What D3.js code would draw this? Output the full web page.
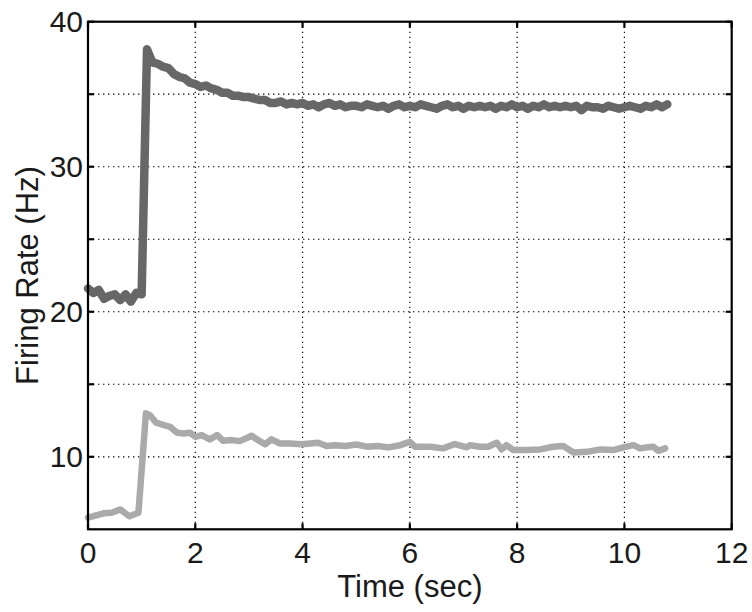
<!DOCTYPE html>
<html lang="en">
<head>
    <meta charset="UTF-8">
    <title>Firing Rate</title>
    <script src="https://d3js.org/d3.v7.min.js"></script>
    <style>
        body { margin: 0; background: #fff; }
        svg text { font-family: "Liberation Sans", Arial, Helvetica, sans-serif; fill: #1a1a1a; }
        .grid line { stroke: #000; stroke-width: 1.2; stroke-dasharray: 1.4,3.6; }
        .frame { fill: none; stroke: #000; stroke-width: 2.2; }
        .tick-mark { stroke: #000; stroke-width: 2.2; }
    </style>
</head>
<body>
<svg id="chart" width="752" height="612"></svg>
<script>
    // x ticks and y ticks
    const xTicks = [0, 2, 4, 6, 8, 10, 12];
    const yTicks = [10, 15, 20, 25, 30, 35, 40];
    const yLabelled = [10, 20, 30, 40];

    // dark series, sampled every 0.1 s from t = 0
    const darkStep = 0.1;
    const darkValues = [
        21.6, 21.3, 21.5, 20.9, 21.1, 21.2, 20.8, 21.2, 20.7, 21.3,
        21.2, 38.1, 37.2, 37.1, 36.9, 36.8, 36.4, 36.2, 36.1, 35.8,
        35.7, 35.5, 35.6, 35.4, 35.3, 35.1, 35.1, 34.9, 34.9, 34.8,
        34.8, 34.7, 34.6, 34.6, 34.4, 34.4, 34.5, 34.3, 34.4, 34.3,
        34.4, 34.2, 34.3, 34.1, 34.3, 34.4, 34.2, 34.3, 34.1, 34.2,
        34.2, 34.1, 34.3, 34.2, 34.1, 34.2, 34.0, 34.2, 34.3, 34.1,
        34.2, 34.1, 34.3, 34.2, 34.1, 34.0, 34.2, 34.3, 34.1, 34.2,
        34.0, 34.2, 34.1, 34.2, 34.1, 34.2, 34.0, 34.2, 34.1, 34.3,
        34.1, 34.2, 34.0, 34.2, 34.1, 34.3, 34.1, 34.2, 34.1, 34.2,
        34.1, 34.2, 33.9, 34.2, 34.1, 34.1, 34.0, 34.2, 34.1, 34.0,
        34.1, 34.2, 34.1, 34.0, 34.2, 34.1, 34.3, 34.1, 34.3
    ];

    // light series (time, rate)
    const lightTimes = [
        0.0, 0.29, 0.44, 0.6, 0.77, 0.94, 1.08, 1.16, 1.27, 1.4,
        1.53, 1.65, 1.78, 1.9, 2.0, 2.12, 2.27, 2.41, 2.52, 2.68,
        2.83, 3.05, 3.17, 3.3, 3.42, 3.58, 3.77, 3.98, 4.14, 4.29,
        4.45, 4.6, 4.8, 5.0, 5.2, 5.4, 5.6, 5.82, 6.0, 6.1,
        6.38, 6.62, 6.84, 7.06, 7.12, 7.31, 7.46, 7.62, 7.71, 7.8,
        7.93, 8.18, 8.43, 8.67, 8.86, 9.05, 9.3, 9.55, 9.79, 9.98,
        10.17, 10.29, 10.42, 10.54, 10.63, 10.76
    ];
    const lightValues = [
        5.8, 6.1, 6.14, 6.37, 5.9, 6.14, 13.0, 12.85, 12.35, 12.2,
        12.07, 11.68, 11.6, 11.66, 11.38, 11.5, 11.2, 11.5, 11.1, 11.15,
        11.08, 11.45, 11.15, 10.86, 11.2, 10.92, 10.92, 10.86, 10.92, 10.97,
        10.74, 10.8, 10.75, 10.85, 10.7, 10.75, 10.65, 10.8, 11.03, 10.69,
        10.69, 10.58, 10.88, 10.65, 10.8, 10.69, 10.69, 10.97, 10.51, 10.8,
        10.46, 10.46, 10.51, 10.69, 10.74, 10.3, 10.34, 10.51, 10.46, 10.65,
        10.8, 10.58, 10.65, 10.69, 10.41, 10.58
    ];

    const plotLeft = 88, plotRight = 731.7, plotTop = 21.7, plotBottom = 529.3;
    const svg = d3.select("#chart");

    const x = d3.scaleLinear().domain([0, 12]).range([plotLeft, plotRight]);
    const y = d3.scaleLinear().domain([5, 40]).range([plotBottom, plotTop]);

    const darkData = darkValues.map((v, i) => ({ t: i * darkStep, v: v }));
    const lightData = lightValues.map((v, i) => ({ t: lightTimes[i], v: v }));

    // grid
    const grid = svg.append("g").attr("class", "grid");
    grid.selectAll(".gx")
        .data(xTicks.filter(t => t > 0 && t < 12))
        .enter().append("line")
        .attr("x1", d => x(d)).attr("x2", d => x(d))
        .attr("y1", plotTop).attr("y2", plotBottom);
    grid.selectAll(".gy")
        .data(yTicks.filter(t => t < 40))
        .enter().append("line")
        .attr("x1", plotLeft).attr("x2", plotRight)
        .attr("y1", d => y(d)).attr("y2", d => y(d));

    // lines
    const line = d3.line().x(d => x(d.t)).y(d => y(d.v));
    svg.append("path")
        .datum(lightData)
        .attr("d", line)
        .attr("fill", "none")
        .attr("stroke", "#aaaaaa")
        .attr("stroke-width", 6.5)
        .attr("stroke-linejoin", "round")
        .attr("stroke-linecap", "round");
    svg.append("path")
        .datum(darkData)
        .attr("d", line)
        .attr("fill", "none")
        .attr("stroke", "#676767")
        .attr("stroke-width", 8.5)
        .attr("stroke-linejoin", "round")
        .attr("stroke-linecap", "round");

    // frame
    svg.append("rect").attr("class", "frame")
        .attr("x", plotLeft).attr("y", plotTop)
        .attr("width", plotRight - plotLeft).attr("height", plotBottom - plotTop);

    // ticks, inward on all four sides
    const tickLen = 6;
    const ticks = svg.append("g");
    xTicks.forEach(t => {
        ticks.append("line").attr("class", "tick-mark")
            .attr("x1", x(t)).attr("x2", x(t)).attr("y1", plotBottom).attr("y2", plotBottom - tickLen);
        ticks.append("line").attr("class", "tick-mark")
            .attr("x1", x(t)).attr("x2", x(t)).attr("y1", plotTop).attr("y2", plotTop + tickLen);
    });
    yTicks.forEach(t => {
        ticks.append("line").attr("class", "tick-mark")
            .attr("x1", plotLeft).attr("x2", plotLeft + tickLen).attr("y1", y(t)).attr("y2", y(t));
        ticks.append("line").attr("class", "tick-mark")
            .attr("x1", plotRight).attr("x2", plotRight - tickLen).attr("y1", y(t)).attr("y2", y(t));
    });

    // tick labels
    svg.selectAll(".xl")
        .data(xTicks)
        .enter().append("text")
        .attr("x", d => x(d))
        .attr("y", 563)
        .attr("text-anchor", "middle")
        .attr("font-size", 30)
        .text(d => d);
    svg.selectAll(".yl")
        .data(yLabelled)
        .enter().append("text")
        .attr("x", plotLeft - 5)
        .attr("y", d => y(d) + 10.5)
        .attr("text-anchor", "end")
        .attr("font-size", 30)
        .text(d => d);

    // axis titles
    svg.append("text")
        .attr("x", (plotLeft + plotRight) / 2)
        .attr("y", 597)
        .attr("text-anchor", "middle")
        .attr("font-size", 31)
        .text("Time (sec)");
    svg.append("text")
        .attr("transform", `translate(38, ${(plotTop + plotBottom) / 2}) rotate(-90)`)
        .attr("text-anchor", "middle")
        .attr("font-size", 31)
        .text("Firing Rate (Hz)");
</script>
</body>
</html>
